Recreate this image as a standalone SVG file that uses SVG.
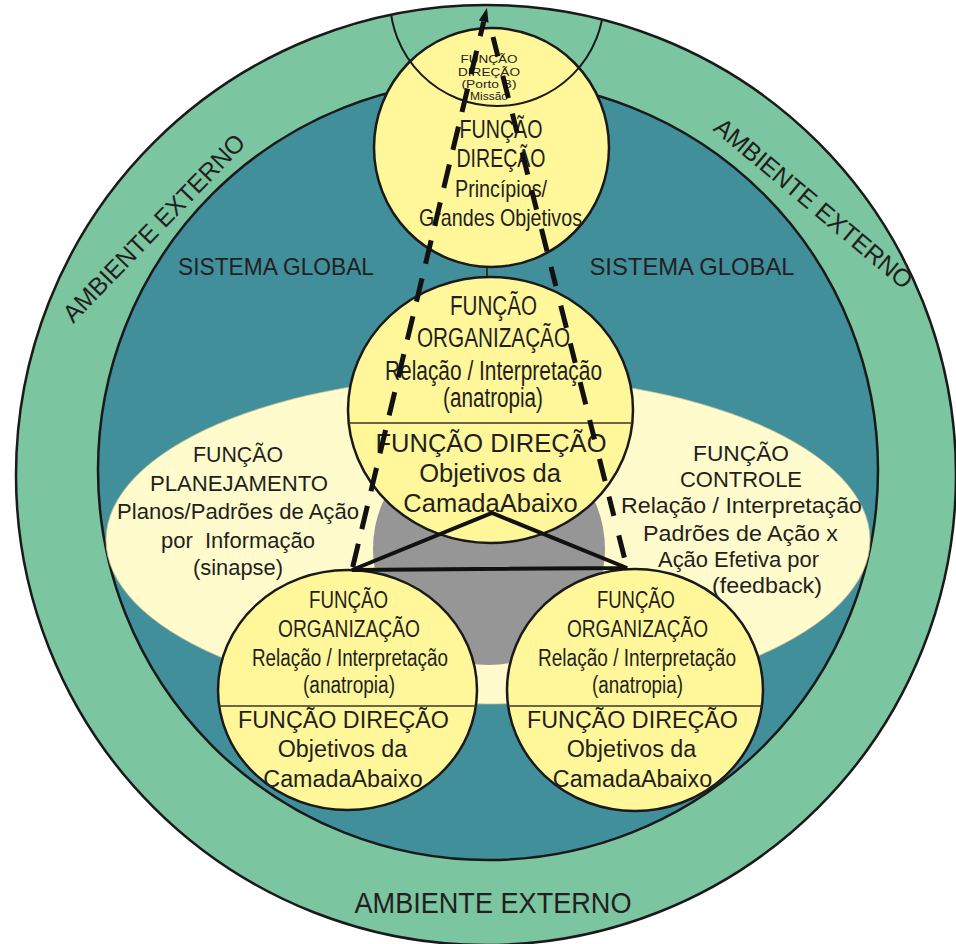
<svg xmlns="http://www.w3.org/2000/svg" width="956" height="944" viewBox="0 0 956 944">
<style>
.t{font-family:"Liberation Sans",Arial,sans-serif;fill:#231f20;text-anchor:middle}
.yc{fill:#fff799;stroke:#1a1a1a;stroke-width:2.5}
.div{stroke:#3a3a2a;stroke-width:1.3}
.dash{fill:none;stroke:#111;stroke-width:5;stroke-dasharray:24 15}
.tri{fill:none;stroke:#111;stroke-width:4;stroke-linejoin:miter}
</style>
<defs>
<clipPath id="outerClip"><circle cx="486" cy="475" r="470"/></clipPath>
<marker id="arr" viewBox="0 0 14 10" markerWidth="14" markerHeight="10" refX="0" refY="5" orient="auto-start-reverse" markerUnits="userSpaceOnUse">
<path d="M0,0 L14,5 L0,10 z" fill="#111"/>
</marker>
</defs>
<rect width="956" height="944" fill="#ffffff"/>
<g id="ambiente-externo">
<circle cx="486" cy="475" r="470" fill="#7bc5a0" stroke="#1a1a1a" stroke-width="2.5"/>
<text class="t" font-size="25" textLength="250" lengthAdjust="spacingAndGlyphs" transform="translate(160,234) rotate(-46)">AMBIENTE EXTERNO</text>
<text class="t" font-size="25" textLength="250" lengthAdjust="spacingAndGlyphs" transform="translate(808,210) rotate(40)">AMBIENTE EXTERNO</text>
<text class="t" x="493" y="913" font-size="29" textLength="277" lengthAdjust="spacingAndGlyphs">AMBIENTE EXTERNO</text>
</g>
<g id="sistema-global">
<circle cx="488" cy="470" r="390" fill="#428f9c" stroke="#1a1a1a" stroke-width="2.5"/>
<text class="t" x="276" y="275" font-size="24" textLength="196" lengthAdjust="spacingAndGlyphs">SISTEMA GLOBAL</text>
<text class="t" x="692" y="275" font-size="24" textLength="205" lengthAdjust="spacingAndGlyphs">SISTEMA GLOBAL</text>
</g>
<g id="planejamento-controle">
<ellipse cx="488" cy="540" rx="382" ry="164" fill="#fffbcc" stroke="#c9bd92" stroke-width="0.8"/>
<circle cx="489" cy="549" r="116" fill="#969696"/>
</g>
<g id="funcao-direcao-topo">
<ellipse cx="491.5" cy="147.5" rx="117.5" ry="119.5" class="yc"/>
<g clip-path="url(#outerClip)"><circle cx="497" cy="-1" r="107" fill="none" stroke="#1a1a1a" stroke-width="2"/></g>
<text class="t" x="489" y="63" font-size="10.5" textLength="57" lengthAdjust="spacingAndGlyphs">FUNÇÃO</text>
<text class="t" x="489" y="76" font-size="10.5" textLength="62" lengthAdjust="spacingAndGlyphs">DIREÇÃO</text>
<text class="t" x="489" y="88" font-size="10.5" textLength="55" lengthAdjust="spacingAndGlyphs">(Porto B)</text>
<text class="t" x="489" y="100" font-size="10.5" textLength="38" lengthAdjust="spacingAndGlyphs">Missão</text>
<text class="t" x="501" y="138" font-size="25" textLength="83" lengthAdjust="spacingAndGlyphs">FUNÇÃO</text>
<text class="t" x="501" y="167" font-size="25" textLength="89" lengthAdjust="spacingAndGlyphs">DIREÇÃO</text>
<text class="t" x="501" y="197" font-size="24" textLength="92" lengthAdjust="spacingAndGlyphs">Princípios/</text>
<text class="t" x="500.5" y="226" font-size="24" textLength="163" lengthAdjust="spacingAndGlyphs">Grandes Objetivos</text>
</g>
<g id="funcao-organizacao-meio">
<ellipse cx="490.5" cy="410" rx="142.5" ry="133" class="yc"/>
<line class="div" x1="349" y1="423" x2="632" y2="423"/>
<text class="t" x="493.5" y="315" font-size="27" textLength="87" lengthAdjust="spacingAndGlyphs">FUNÇÃO</text>
<text class="t" x="493.5" y="347" font-size="27" textLength="153" lengthAdjust="spacingAndGlyphs">ORGANIZAÇÃO</text>
<text class="t" x="493.5" y="380" font-size="27" textLength="217" lengthAdjust="spacingAndGlyphs">Relação / Interpretação</text>
<text class="t" x="493" y="407" font-size="27" textLength="100" lengthAdjust="spacingAndGlyphs">(anatropia)</text>
<text class="t" x="491" y="452" font-size="25.5">FUNÇÃO DIREÇÃO</text>
<text class="t" x="490" y="482" font-size="25.5">Objetivos da</text>
<text class="t" x="490.5" y="512" font-size="25.5">CamadaAbaixo</text>
</g>
<g id="funcao-organizacao-esq">
<ellipse cx="347.5" cy="690" rx="129.5" ry="120" class="yc"/>
<line class="div" x1="219" y1="706" x2="476" y2="706"/>
<text class="t" x="348.5" y="608" font-size="23" textLength="79" lengthAdjust="spacingAndGlyphs">FUNÇÃO</text>
<text class="t" x="349" y="637" font-size="23" textLength="142" lengthAdjust="spacingAndGlyphs">ORGANIZAÇÃO</text>
<text class="t" x="350" y="666" font-size="23" textLength="196" lengthAdjust="spacingAndGlyphs">Relação / Interpretação</text>
<text class="t" x="349" y="693" font-size="23" textLength="92" lengthAdjust="spacingAndGlyphs">(anatropia)</text>
<text class="t" x="343.5" y="728" font-size="23.3">FUNÇÃO DIREÇÃO</text>
<text class="t" x="342.5" y="757" font-size="23.3">Objetivos da</text>
<text class="t" x="343" y="787" font-size="23.3">CamadaAbaixo</text>
</g>
<g id="funcao-organizacao-dir">
<ellipse cx="635" cy="690" rx="128" ry="121" class="yc"/>
<line class="div" x1="508" y1="706" x2="762" y2="706"/>
<text class="t" x="636" y="608" font-size="23" textLength="78" lengthAdjust="spacingAndGlyphs">FUNÇÃO</text>
<text class="t" x="637.5" y="637" font-size="23" textLength="141" lengthAdjust="spacingAndGlyphs">ORGANIZAÇÃO</text>
<text class="t" x="637" y="666" font-size="23" textLength="198" lengthAdjust="spacingAndGlyphs">Relação / Interpretação</text>
<text class="t" x="637.5" y="693" font-size="23" textLength="91" lengthAdjust="spacingAndGlyphs">(anatropia)</text>
<text class="t" x="632.5" y="728" font-size="23.3">FUNÇÃO DIREÇÃO</text>
<text class="t" x="631.5" y="757" font-size="23.3">Objetivos da</text>
<text class="t" x="632.5" y="787" font-size="23.3">CamadaAbaixo</text>
</g>
<g id="connectors">
<line x1="487" y1="267" x2="487" y2="278" stroke="#1a1a1a" stroke-width="1.5"/>
<path class="dash" d="M483.7,21.6 L352,570" stroke-dashoffset="9" marker-start="url(#arr)"/>
<path class="dash" d="M493,37 L627,568" style="stroke-dasharray:20 20 23 16"/>
<path class="tri" d="M352,570 L492,513 L627,568 Z"/>
</g>
<g id="funcao-planejamento">
<text class="t" x="238" y="462" font-size="22" textLength="90" lengthAdjust="spacingAndGlyphs">FUNÇÃO</text>
<text class="t" x="239" y="491" font-size="22" textLength="178" lengthAdjust="spacingAndGlyphs">PLANEJAMENTO</text>
<text class="t" x="238" y="519" font-size="22" textLength="242" lengthAdjust="spacingAndGlyphs">Planos/Padrões de Ação</text>
<text class="t" x="238" y="548" font-size="22" textLength="154" lengthAdjust="spacingAndGlyphs" xml:space="preserve">por  Informação</text>
<text class="t" x="238" y="575" font-size="22" textLength="90" lengthAdjust="spacingAndGlyphs">(sinapse)</text>
</g>
<g id="funcao-controle">
<text class="t" x="741" y="461" font-size="22.5" textLength="96" lengthAdjust="spacingAndGlyphs">FUNÇÃO</text>
<text class="t" x="741" y="487" font-size="22.5" textLength="122" lengthAdjust="spacingAndGlyphs">CONTROLE</text>
<text class="t" x="741.5" y="513" font-size="22.5" textLength="241" lengthAdjust="spacingAndGlyphs">Relação / Interpretação</text>
<text class="t" x="740.5" y="541" font-size="22.5" textLength="195" lengthAdjust="spacingAndGlyphs">Padrões de Ação x</text>
<text class="t" x="738.5" y="567" font-size="22.5" textLength="161" lengthAdjust="spacingAndGlyphs">Ação Efetiva por</text>
<text class="t" x="767" y="593" font-size="22.5" textLength="110" lengthAdjust="spacingAndGlyphs">(feedback)</text>
</g>
</svg>
